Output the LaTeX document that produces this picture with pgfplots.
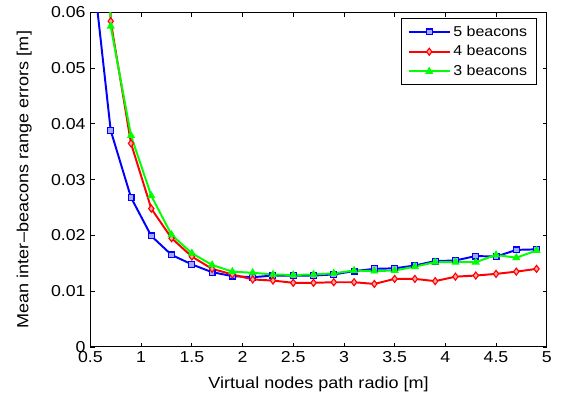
\documentclass[border=0pt]{standalone}
\usepackage{pgfplots}
\pgfplotsset{compat=1.18}
\usepackage{fontspec}
\setmainfont{Liberation Sans}[FakeStretch=1.12]

\definecolor{mblue}{rgb}{0,0,1}
\definecolor{mred}{rgb}{1,0,0}
\definecolor{mgreen}{rgb}{0,1,0}

\begin{document}
\begin{tikzpicture}
\begin{axis}[
  name=ax,
  scale only axis,
  width=325.9pt, height=239pt,
  xmin=0.5, xmax=5, ymin=0, ymax=0.06,
  xtick={0.5,1,1.5,2,2.5,3,3.5,4,4.5,5},
  xticklabels={0.5,1,1.5,2,2.5,3,3.5,4,4.5,5},
  ytick={0,0.01,0.02,0.03,0.04,0.05,0.06},
  yticklabels={0,0.01,0.02,0.03,0.04,0.05,0.06},
  scaled y ticks=false,
  tick align=inside,
  major tick length=3pt,
  tick style={black, line width=0.6pt},
  axis line style={black, line width=0.8pt},
  /pgf/number format/assume math mode=true,
  tick label style={font=\fontsize{11.3pt}{13pt}\selectfont},
  label style={font=\fontsize{11.5pt}{13pt}\selectfont},
  xlabel={Virtual nodes path radio [m]},
  ylabel={Mean inter\kern0.5pt\textendash beacons range errors [m]},
  xlabel style={yshift=-3pt},
  ylabel style={yshift=7pt},
  legend cell align=left,
  legend style={at={(0.978,0.982)}, anchor=north east, draw=black,
    line width=0.6pt, font=\fontsize{10.2pt}{12pt}\selectfont, row sep=1.2pt,
    inner xsep=4.5pt, inner ysep=3pt},
  legend image code/.code={
    \draw[#1, line width=1.4pt, mark repeat=2, mark phase=2]
      plot coordinates {(0pt,0pt) (14.5pt,0pt) (29pt,0pt)};
  },
]
% five beacons
\addplot[mblue, line width=1.4pt, mark=square*, mark size=2.1pt, mark options={fill=mblue!35, line width=0.8pt}]
  coordinates {
  (0.5,0.0717) (0.7,0.0388) (0.9,0.0268) (1.1,0.0199) (1.3,0.0165) (1.5,0.0148)
  (1.7,0.0134) (1.9,0.0127) (2.1,0.0125) (2.3,0.0128) (2.5,0.0128) (2.7,0.0128)
  (2.9,0.0130) (3.1,0.0136) (3.3,0.0140) (3.5,0.0141) (3.7,0.0146) (3.9,0.0154)
  (4.1,0.0155) (4.3,0.0163) (4.5,0.0162) (4.7,0.0174) (4.9,0.0175)
  };
\addlegendentry{5 beacons}
% four beacons
\addplot[mred, line width=1.4pt, mark=diamond*, mark size=2.5pt, mark options={fill=mred!35, line width=0.8pt}]
  coordinates {
  (0.5,0.2000) (0.7,0.0584) (0.9,0.0365) (1.1,0.0248) (1.3,0.0195) (1.5,0.0162)
  (1.7,0.0140) (1.9,0.0130) (2.1,0.0121) (2.3,0.0119) (2.5,0.0115) (2.7,0.0115)
  (2.9,0.0116) (3.1,0.0116) (3.3,0.0113) (3.5,0.0122) (3.7,0.0122) (3.9,0.0118)
  (4.1,0.0126) (4.3,0.0128) (4.5,0.0131) (4.7,0.0135) (4.9,0.0140)
  };
\addlegendentry{4 beacons}
% three beacons
\addplot[mgreen, line width=1.4pt, mark=triangle*, mark size=2.8pt, mark options={fill=mgreen, line width=0.6pt}]
  coordinates {
  (0.5,0.2000) (0.7,0.0575) (0.9,0.0379) (1.1,0.0271) (1.3,0.0201) (1.5,0.0168)
  (1.7,0.0147) (1.9,0.0135) (2.1,0.0133) (2.3,0.0130) (2.5,0.0129) (2.7,0.0130)
  (2.9,0.0132) (3.1,0.0137) (3.3,0.0136) (3.5,0.0137) (3.7,0.0144) (3.9,0.0152)
  (4.1,0.0152) (4.3,0.0152) (4.5,0.0165) (4.7,0.0160) (4.9,0.0173)
  };
\addlegendentry{3 beacons}
\end{axis}
\pgfresetboundingbox
\path ([shift={(-64.6pt,-38.6pt)}]ax.south west) rectangle ([shift={(10.2pt,8.8pt)}]ax.north east);
\end{tikzpicture}
\end{document}
